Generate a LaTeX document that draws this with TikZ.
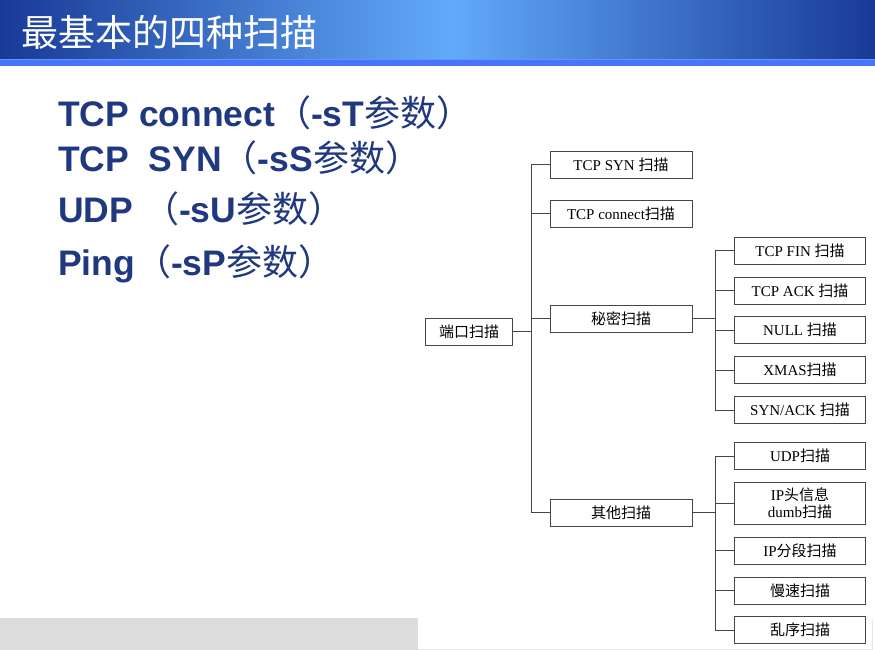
\documentclass[tikz,border=0pt]{standalone}
\usepackage{fontspec}
\setmainfont{Liberation Serif}
\newfontfamily\cjk{Noto Sans CJK SC}
\newfontfamily\arialfont{Liberation Sans}
\definecolor{hdark}{RGB}{24,58,150}
\definecolor{hlight}{RGB}{98,170,250}
\definecolor{band}{RGB}{70,118,246}
\definecolor{bandtop}{RGB}{100,150,250}
\definecolor{navy}{RGB}{31,56,128}
\definecolor{boxline}{RGB}{70,70,70}
\definecolor{strip}{RGB}{220,220,220}
\definecolor{edge}{RGB}{232,232,232}
\newcommand\cj[1]{{\cjk\mdseries\fontsize{36}{40}\selectfont #1}}
\begin{document}
\begin{tikzpicture}[x=1pt,y=-1pt,
 box/.style={draw=boxline, line width=0.9pt, minimum width=142pt, minimum height=27pt, inner sep=1pt,
   font=\fontsize{15}{17}\selectfont, align=center},
 sbox/.style={box, minimum width=131pt},
 link/.style={draw=boxline, line width=1pt},
 bullet/.style={anchor=base west, inner sep=0pt, text=navy, font=\arialfont\bfseries\fontsize{35.5}{40}\selectfont}]
\useasboundingbox (0,0) rectangle (875,650);
% header
\fill[left color=hdark, right color=hlight] (0,0) rectangle (450,59);
\fill[left color=hlight, right color=hdark] (450,0) rectangle (875,59);
\fill[band] (0,59) rectangle (875,66);
\draw[bandtop, line width=1pt] (0,59.5) -- (875,59.5);
\node[anchor=west, text=white, font=\cjk\fontsize{37}{40}\selectfont, inner sep=0pt] (title) at (21,32) {最基本的四种扫描};
% bottom strip
\fill[strip] (0,618) rectangle (418,650);
\draw[edge, line width=1pt] (418,649.5) -- (872,649.5) -- (872,620);
% bullets
\node[bullet] (b1) at (58,127) {TCP connect\cj{（}-sT\cj{参数）}};
\node[bullet] (b2) at (58,171) {TCP\ \ SYN\cj{（}-sS\cj{参数）}};
\node[bullet] (b3) at (58,222) {UDP \cj{（}-sU\cj{参数）}};
\node[bullet] (b4) at (58,275) {Ping\cj{（}-sP\cj{参数）}};
% tree nodes
\node[box, minimum width=87pt] (root) at (469,331.5) {\cjk 端口扫描};
\node[box] (syn) at (621,164.5) {TCP SYN {\cjk 扫描}};
\node[box] (conn) at (621,213.5) {TCP connect{\cjk 扫描}};
\node[box] (secret) at (621,318.5) {\cjk 秘密扫描};
\node[box] (other) at (621,512.5) {\cjk 其他扫描};
\node[sbox] (fin) at (800,250.5) {TCP FIN {\cjk 扫描}};
\node[sbox] (ack) at (800,290.5) {TCP ACK {\cjk 扫描}};
\node[sbox] (null) at (800,330) {NULL {\cjk 扫描}};
\node[sbox] (xmas) at (800,370) {XMAS{\cjk 扫描}};
\node[sbox] (synack) at (800,410) {SYN/ACK {\cjk 扫描}};
\node[sbox] (udp) at (800,456) {UDP{\cjk 扫描}};
\node[sbox, minimum height=42pt] (dumb) at (800,503) {IP{\cjk 头信息}\\dumb{\cjk 扫描}};
\node[sbox] (frag) at (800,550.5) {IP{\cjk 分段扫描}};
\node[sbox] (slow) at (800,590.5) {\cjk 慢速扫描};
\node[sbox] (rand) at (800,630) {\cjk 乱序扫描};
% trunks
\coordinate (t1) at (531,331.5);
\coordinate (t2) at (715.5,318.5);
\coordinate (t3) at (715.5,512.5);
\draw[link] (root.east) -- (t1);
\draw[link] (syn.west) -- (syn.west -| t1) -- (other.west -| t1) -- (other.west);
\draw[link] (conn.west) -- (conn.west -| t1);
\draw[link] (secret.west) -- (secret.west -| t1);
\draw[link] (secret.east) -- (t2);
\draw[link] (fin.west) -- (fin.west -| t2) -- (synack.west -| t2) -- (synack.west);
\foreach \n in {ack,null,xmas} \draw[link] (\n.west) -- (\n.west -| t2);
\draw[link] (other.east) -- (t3);
\draw[link] (udp.west) -- (udp.west -| t3) -- (rand.west -| t3) -- (rand.west);
\foreach \n in {dumb,frag,slow} \draw[link] (\n.west) -- (\n.west -| t3);
\end{tikzpicture}
\end{document}
